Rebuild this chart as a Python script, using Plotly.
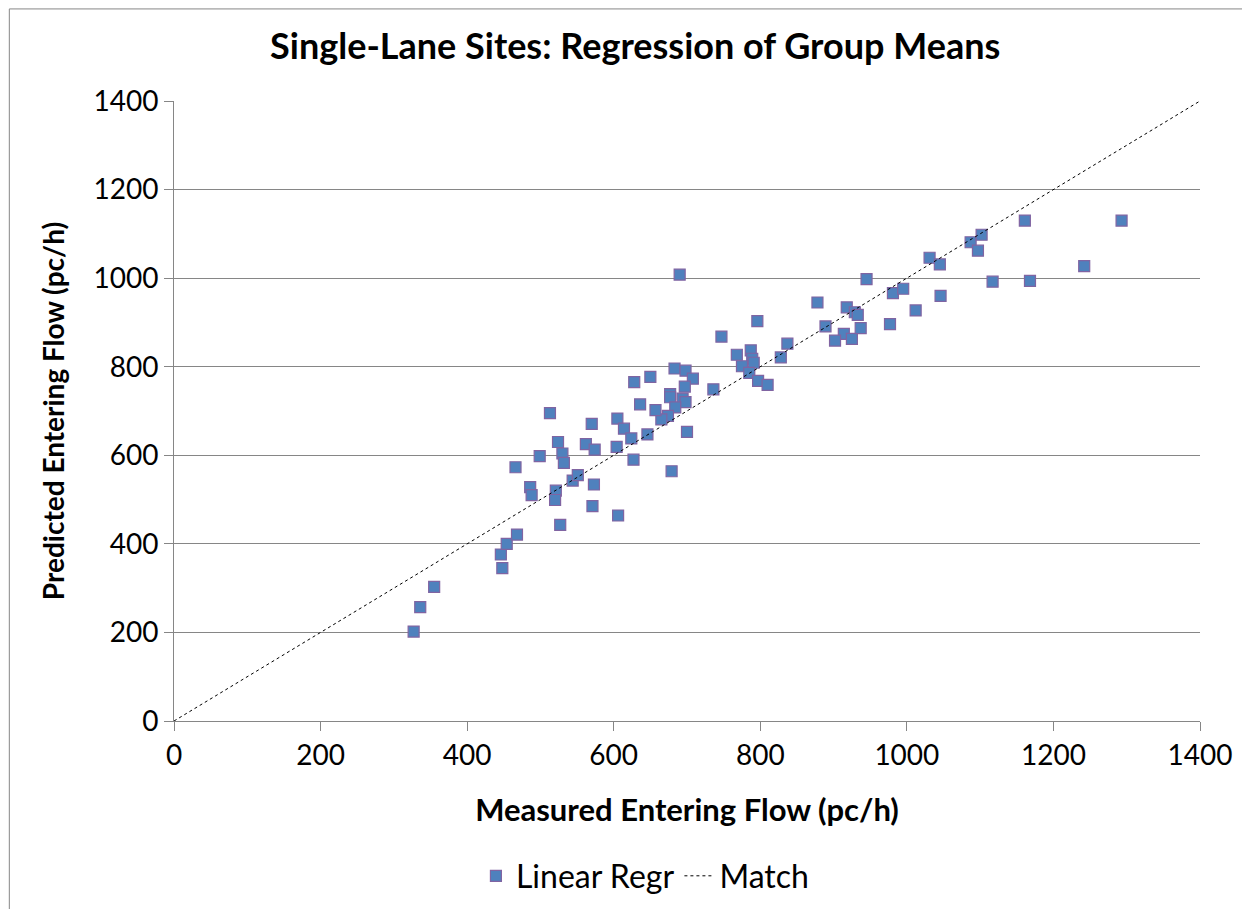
import plotly.graph_objects as go

measured = [327, 336, 355, 448, 446, 454, 468, 527, 486, 488, 521, 520, 544, 573, 571,
            690, 683, 698, 708, 697, 628, 650, 677, 677, 694, 698, 684, 674, 665, 636,
            657, 700, 513, 570, 605, 614, 624, 646, 604, 524, 562, 530, 574, 532, 499,
            466, 627, 679, 551, 606,
            736, 747, 796, 768, 787, 789, 791, 775, 785, 797, 810, 828, 837, 878, 889,
            918, 929, 933, 914, 902, 925, 937, 945, 981, 995, 977, 1012, 1046, 1031,
            1045, 1087, 1102, 1097, 1117, 1161, 1293, 1242, 1168]
predicted = [202, 257, 303, 345, 376, 400, 421, 443, 528, 510, 520, 499, 543, 534, 485,
             1008, 796, 791, 773, 755, 765, 777, 738, 731, 728, 720, 708, 689, 681, 715,
             702, 653, 695, 671, 683, 660, 638, 647, 619, 630, 625, 604, 613, 583, 598,
             573, 590, 564, 555, 464,
             749, 868, 903, 827, 837, 818, 809, 801, 786, 768, 759, 821, 852, 945, 891,
             934, 923, 917, 874, 859, 863, 887, 998, 966, 976, 896, 927, 960, 1046,
             1031, 1081, 1098, 1062, 992, 1130, 1130, 1027, 994]

match_x = [0, 1400]
match_y = [0, 1400]

x_ticks = [0, 200, 400, 600, 800, 1000, 1200, 1400]
y_ticks = [0, 200, 400, 600, 800, 1000, 1200, 1400]

FONT = "Lato"

fig = go.Figure()
fig.add_trace(go.Scatter(
    x=measured, y=predicted, mode="markers", name="Linear Regr",
    marker=dict(symbol="square", size=11, color="#4F81BD",
                line=dict(color="#8064A2", width=1.2)),
))
fig.add_trace(go.Scatter(
    x=match_x, y=match_y, mode="lines", name="Match",
    line=dict(color="black", width=1, dash="dot"),
))

fig.update_layout(
    width=1242, height=901,
    margin=dict(l=166, r=50, t=93, b=188, autoexpand=False),
    paper_bgcolor="white", plot_bgcolor="white",
    font=dict(family=FONT, color="black", size=28),
    title=dict(text="<b>Single-Lane Sites: Regression of Group Means</b>",
               x=0.505, xanchor="center", y=0.957, yanchor="middle",
               font=dict(size=36, family=FONT)),
    showlegend=True,
    legend=dict(orientation="h", x=0.459, xanchor="center", y=-0.25, yanchor="middle",
                font=dict(size=32, family=FONT),
                bgcolor="rgba(0,0,0,0)"),
    shapes=[dict(type="rect", xref="paper", yref="paper",
                 x0=-0.1605, x1=1.08, y0=-0.35, y1=1.1485,
                 line=dict(color="#868686", width=1), layer="below")],
)
fig.update_xaxes(
    range=[0, 1400], tickvals=x_ticks, showgrid=False, zeroline=False,
    showline=True, linecolor="#868686", linewidth=1, automargin=False,
    ticks="outside", ticklen=9, tickcolor="#868686",
    tickfont=dict(size=28),
    title=dict(text="<b>Measured Entering Flow (pc/h)</b>", font=dict(size=31), standoff=29),
)
fig.update_yaxes(
    range=[0, 1400], tickvals=y_ticks, showgrid=True, gridcolor="#868686", gridwidth=1,
    zeroline=False, showline=True, linecolor="#868686", linewidth=1, automargin=False,
    ticks="outside", ticklen=9, tickcolor="#868686",
    tickfont=dict(size=28),
    title=dict(text="<b>Predicted Entering Flow (pc/h)</b>", font=dict(size=28), standoff=20),
)

fig.write_html("out.html")
